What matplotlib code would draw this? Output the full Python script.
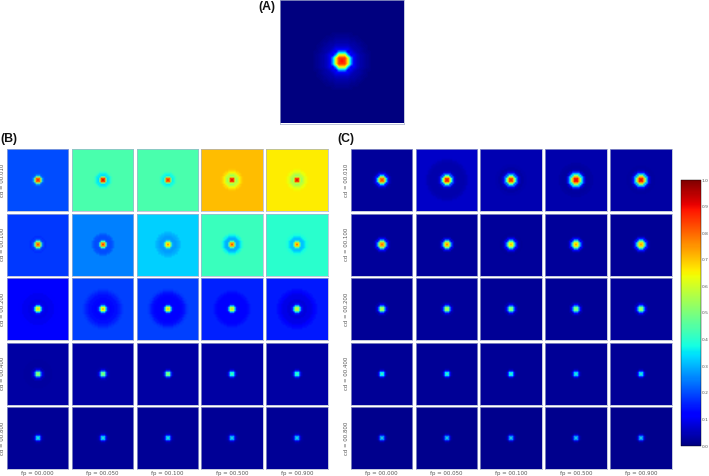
import numpy as np
import matplotlib
matplotlib.use('Agg')
import matplotlib.pyplot as plt
from matplotlib.cm import ScalarMappable
from matplotlib.colors import Normalize

# values: colour level at 0, 1, 2... cells from the centre
# the last number of each list is the background of that panel
fp_labels = ['fp = 00.000', 'fp = 00.050', 'fp = 00.100', 'fp = 00.500', 'fp = 00.900']
cd_labels = ['cd = 00.010', 'cd = 00.100', 'cd = 00.200', 'cd = 00.400', 'cd = 00.800']
cbar_ticks = [0.0, 0.1, 0.2, 0.3, 0.4, 0.5, 0.6, 0.7, 0.8, 0.9, 1.0]

panel_a = [0.90, 0.85, 0.64, 0.28, 0.10, 0.06, 0.04, 0.03, 0.02, 0.01, 0.0]

panels_b = [
    [[0.90, 0.80, 0.52, 0.28, 0.21, 0.20],
     [0.95, 0.84, 0.52, 0.34, 0.36, 0.40, 0.43, 0.44],
     [0.90, 0.80, 0.50, 0.36, 0.38, 0.42, 0.44],
     [0.93, 0.84, 0.60, 0.55, 0.60, 0.65, 0.68, 0.70, 0.71],
     [0.94, 0.84, 0.60, 0.54, 0.58, 0.62, 0.64, 0.65, 0.66]],
    [[0.86, 0.74, 0.46, 0.24, 0.18, 0.17, 0.18],
     [0.88, 0.74, 0.42, 0.22, 0.20, 0.20, 0.21, 0.23, 0.25],
     [0.78, 0.66, 0.44, 0.30, 0.28, 0.28, 0.29, 0.30, 0.31, 0.33],
     [0.86, 0.72, 0.44, 0.30, 0.30, 0.33, 0.37, 0.40, 0.42],
     [0.82, 0.68, 0.44, 0.32, 0.32, 0.35, 0.38, 0.39, 0.40]],
    [[0.70, 0.60, 0.34, 0.15, 0.10, 0.09, 0.09, 0.10, 0.10, 0.10, 0.10, 0.11, 0.11, 0.12],
     [0.76, 0.62, 0.34, 0.17, 0.13, 0.12, 0.13, 0.13, 0.14, 0.14, 0.15, 0.16, 0.17, 0.18, 0.19],
     [0.72, 0.60, 0.32, 0.15, 0.12, 0.12, 0.12, 0.12, 0.12, 0.13, 0.14, 0.15, 0.17, 0.18, 0.19],
     [0.70, 0.56, 0.32, 0.15, 0.12, 0.12, 0.12, 0.12, 0.12, 0.12, 0.13, 0.14, 0.15, 0.16],
     [0.66, 0.54, 0.34, 0.16, 0.09, 0.08, 0.08, 0.09, 0.09, 0.09, 0.10, 0.11, 0.13, 0.14, 0.15]],
    [[0.60, 0.46, 0.22, 0.09, 0.05, 0.03, 0.03, 0.03, 0.03, 0.03, 0.035],
     [0.58, 0.44, 0.20, 0.08, 0.04, 0.035],
     [0.60, 0.44, 0.18, 0.07, 0.035],
     [0.50, 0.36, 0.16, 0.06, 0.035],
     [0.48, 0.36, 0.16, 0.06, 0.035]],
    [[0.45, 0.30, 0.10, 0.04, 0.025, 0.02],
     [0.45, 0.30, 0.10, 0.04, 0.025, 0.02],
     [0.45, 0.30, 0.10, 0.04, 0.025, 0.02],
     [0.42, 0.28, 0.09, 0.04, 0.025, 0.02],
     [0.42, 0.28, 0.09, 0.04, 0.025, 0.02]],
]

panels_c = [
    [[0.88, 0.78, 0.56, 0.32, 0.14, 0.06, 0.035, 0.025],
     [0.92, 0.84, 0.64, 0.40, 0.20, 0.08, 0.05, 0.04, 0.04, 0.04, 0.04, 0.04, 0.045, 0.05, 0.06, 0.065],
     [0.90, 0.82, 0.62, 0.40, 0.22, 0.09, 0.05, 0.035, 0.035, 0.04, 0.04, 0.045],
     [0.92, 0.88, 0.72, 0.54, 0.34, 0.18, 0.07, 0.035, 0.03, 0.03, 0.035, 0.035, 0.04],
     [0.94, 0.86, 0.70, 0.50, 0.30, 0.14, 0.06, 0.035, 0.03, 0.03, 0.035, 0.035]],
    [[0.82, 0.72, 0.50, 0.26, 0.10, 0.04, 0.025],
     [0.80, 0.68, 0.46, 0.22, 0.08, 0.03, 0.025],
     [0.72, 0.64, 0.44, 0.24, 0.10, 0.04, 0.025, 0.02, 0.025],
     [0.76, 0.66, 0.46, 0.26, 0.10, 0.04, 0.025],
     [0.76, 0.68, 0.50, 0.30, 0.14, 0.05, 0.025, 0.02]],
    [[0.64, 0.50, 0.26, 0.10, 0.04, 0.02],
     [0.62, 0.50, 0.26, 0.10, 0.04, 0.025],
     [0.58, 0.46, 0.24, 0.10, 0.04, 0.02],
     [0.58, 0.46, 0.26, 0.12, 0.04, 0.02],
     [0.60, 0.48, 0.28, 0.13, 0.05, 0.025]],
    [[0.50, 0.34, 0.13, 0.04, 0.02],
     [0.50, 0.34, 0.13, 0.04, 0.02],
     [0.48, 0.34, 0.13, 0.04, 0.02],
     [0.46, 0.32, 0.12, 0.04, 0.02],
     [0.46, 0.32, 0.12, 0.04, 0.02]],
    [[0.44, 0.26, 0.08, 0.03, 0.015],
     [0.44, 0.26, 0.08, 0.03, 0.015],
     [0.44, 0.26, 0.08, 0.03, 0.015],
     [0.42, 0.26, 0.08, 0.03, 0.015],
     [0.42, 0.26, 0.08, 0.03, 0.015]],
]

GRID = 41
W, H = 709, 476
plt.rcParams['font.family'] = ['Liberation Sans', 'DejaVu Sans']

fig = plt.figure(figsize=(W / 100, H / 100), dpi=100)


def box(x0, y0, x1, y1):
    # pixel box measured from the top left of the picture
    return fig.add_axes([x0 / W, 1 - y1 / H, (x1 - x0) / W, (y1 - y0) / H])


def draw_panel(ax, profile):
    yy, xx = np.indices((GRID, GRID))
    r = np.hypot(xx - GRID // 2, yy - GRID // 2)
    idx = np.minimum(np.rint(r).astype(int), len(profile) - 1)
    ax.imshow(np.array(profile)[idx], cmap='jet', vmin=0, vmax=1,
              interpolation='bilinear', aspect='auto')
    ax.set_xticks([])
    ax.set_yticks([])
    for s in ax.spines.values():
        s.set_color('#a9b2cf')
        s.set_linewidth(0.5)


def draw_grid(panels, left, label_x):
    for i, row in enumerate(panels):
        top = 149 + i * 64.6
        for j, profile in enumerate(row):
            x0 = left + j * 64.9
            ax = box(x0, top, x0 + 61.6, top + 62)
            draw_panel(ax, profile)
            if i == len(panels) - 1:
                fig.text((x0 + 30.8) / W, 1 - 473.5 / H, fp_labels[j], fontsize=3.9,
                         color='#555555', ha='center', va='center',
                         family=['DejaVu Sans'])
        fig.text(label_x / W, 1 - (top + 31) / H, cd_labels[i], fontsize=3.9,
                 color='#555555', rotation=90, ha='center', va='center',
                 family=['DejaVu Sans'])


draw_panel(box(279.5, 0, 403.5, 123.5), panel_a)
draw_grid(panels_b, 6.7, 2.8)
draw_grid(panels_c, 350.7, 346.3)

for label, x, y in [('(A)', 267, 7), ('(B)', 8.5, 139), ('(C)', 345.5, 139)]:
    fig.text(x / W, 1 - y / H, label, fontsize=8.8, fontweight='bold',
             ha='center', va='center', color='#111111')

cax = box(681.3, 180, 701.3, 446)
cb = fig.colorbar(ScalarMappable(Normalize(0, 1), cmap='jet'), cax=cax, ticks=cbar_ticks)
cb.ax.tick_params(length=0, pad=0.4, labelsize=3.2, labelcolor='#555555')
cb.outline.set_linewidth(0.3)
for t in cb.ax.get_yticklabels():
    t.set_family(['DejaVu Sans'])

fig.savefig('out.png', dpi=100)
